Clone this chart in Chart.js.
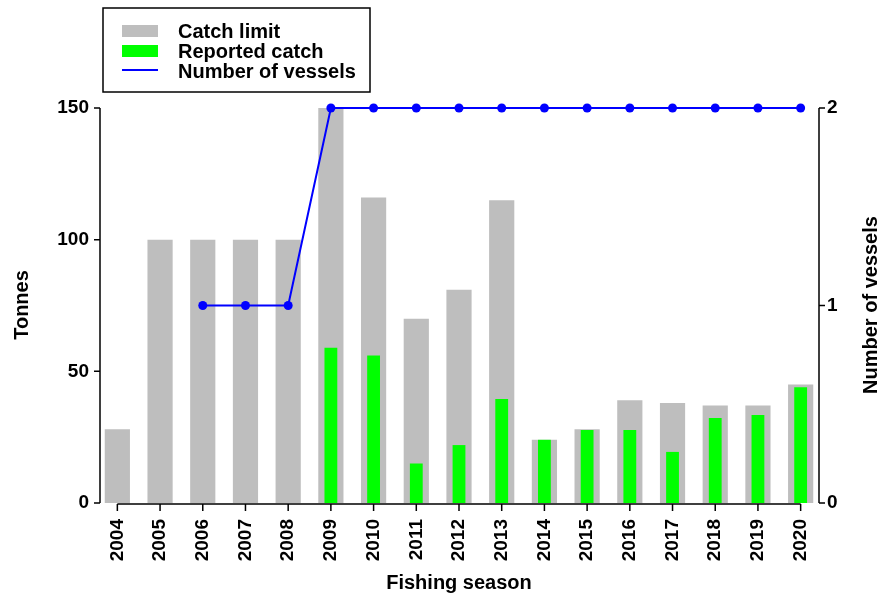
<!DOCTYPE html>
<html>
<head>
<meta charset="utf-8">
<script src="https://cdn.jsdelivr.net/npm/chart.js@4"></script>
<style>
  html, body { margin: 0; padding: 0; background: #fff; }
  #wrap { width: 883px; height: 599px; }
</style>
</head>
<body>
<div id="wrap"><canvas id="chart" width="883" height="599"></canvas></div>
<script>
// chart data
const seasons = ['2004', '2005', '2006', '2007', '2008', '2009', '2010', '2011', '2012',
  '2013', '2014', '2015', '2016', '2017', '2018', '2019', '2020']
const catchLimit = [28, 100, 100, 100, 100, 150, 116, 70, 81, 115, 24, 28, 39, 38, 37, 37, 45]
const reportedCatch = [null, null, null, null, null, 59, 56, 15, 22, 39.5, 24, 27.7, 27.7, 19.4, 32.3, 33.4, 44]
const vessels = [null, null, 1, 1, 1, 2, 2, 2, 2, 2, 2, 2, 2, 2, 2, 2, 2]
const tonnesTicks = [0, 50, 100, 150]
const vesselTicks = [0, 1, 2]

const FONT = 'Liberation Sans, Arial, sans-serif'

// axes, titles and legend box drawn R-style
const decorPlugin = {
  id: 'decor',
  afterDraw(chart) {
    const ctx = chart.ctx
    const x = chart.scales.x
    const y = chart.scales.y
    const y2 = chart.scales.y2
    const leftX = 100
    const rightX = 819
    ctx.save()
    ctx.strokeStyle = '#000'
    ctx.lineWidth = 1.5
    ctx.beginPath()
    // left axis
    ctx.moveTo(leftX, y.getPixelForValue(0))
    ctx.lineTo(leftX, y.getPixelForValue(150))
    tonnesTicks.forEach(v => {
      const py = y.getPixelForValue(v)
      ctx.moveTo(leftX, py)
      ctx.lineTo(leftX - 6, py)
    })
    // right axis
    ctx.moveTo(rightX, y2.getPixelForValue(0))
    ctx.lineTo(rightX, y2.getPixelForValue(2))
    vesselTicks.forEach(v => {
      const py = y2.getPixelForValue(v)
      ctx.moveTo(rightX, py)
      ctx.lineTo(rightX + 6, py)
    })
    // bottom axis
    const by = 504
    ctx.moveTo(x.getPixelForValue(0), by)
    ctx.lineTo(x.getPixelForValue(seasons.length - 1), by)
    seasons.forEach((s, i) => {
      const px = x.getPixelForValue(i)
      ctx.moveTo(px, by)
      ctx.lineTo(px, by + 7)
    })
    ctx.stroke()

    // axis titles
    ctx.fillStyle = '#000'
    ctx.font = 'bold 20px ' + FONT
    ctx.textAlign = 'center'
    ctx.textBaseline = 'middle'
    ctx.fillText('Fishing season', 459, 583)
    ctx.save()
    ctx.translate(22, 305)
    ctx.rotate(-Math.PI / 2)
    ctx.fillText('Tonnes', 0, 0)
    ctx.restore()
    ctx.save()
    ctx.translate(871, 305)
    ctx.rotate(-Math.PI / 2)
    ctx.fillText('Number of vessels', 0, 0)
    ctx.restore()

    // legend
    ctx.lineWidth = 1.5
    ctx.strokeRect(103, 8, 267, 84)
    const ds = chart.data.datasets
    const rows = [31, 51, 71]
    ctx.textAlign = 'left'
    ds.forEach((d, i) => {
      const ry = rows[i]
      if (d.type === 'line') {
        ctx.strokeStyle = d.borderColor
        ctx.lineWidth = 2
        ctx.beginPath()
        ctx.moveTo(122, ry - 1)
        ctx.lineTo(158, ry - 1)
        ctx.stroke()
      } else {
        ctx.fillStyle = d.backgroundColor
        ctx.fillRect(122, ry - 6, 36, 12)
      }
      ctx.fillStyle = '#000'
      ctx.fillText(d.label, 178, ry + 1)
    })
    ctx.restore()
  }
}

const ctx = document.getElementById('chart').getContext('2d')
const chart = new Chart(ctx, {
  data: {
    labels: seasons,
    datasets: [
      {
        type: 'bar',
        label: 'Catch limit',
        data: catchLimit,
        backgroundColor: '#BEBEBE',
        barPercentage: 0.59,
        categoryPercentage: 1,
        grouped: false,
        order: 3,
        yAxisID: 'y'
      },
      {
        type: 'bar',
        label: 'Reported catch',
        data: reportedCatch,
        backgroundColor: '#00FF00',
        barPercentage: 0.3,
        categoryPercentage: 1,
        grouped: false,
        order: 2,
        yAxisID: 'y'
      },
      {
        type: 'line',
        label: 'Number of vessels',
        data: vessels,
        borderColor: '#0000FF',
        backgroundColor: '#0000FF',
        borderWidth: 2,
        pointRadius: 4.5,
        pointBackgroundColor: '#0000FF',
        pointBorderWidth: 0,
        spanGaps: false,
        clip: false,
        order: 1,
        yAxisID: 'y2'
      }
    ]
  },
  options: {
    responsive: false,
    animation: false,
    layout: { padding: { top: 108, left: 0, right: 0, bottom: 0 } },
    plugins: {
      legend: { display: false },
      tooltip: { enabled: false }
    },
    scales: {
      x: {
        offset: true,
        grid: { display: false, drawTicks: false },
        border: { display: false },
        ticks: {
          color: '#000',
          font: { family: FONT, size: 19, weight: 'bold' },
          minRotation: 90,
          maxRotation: 90,
          padding: 16,
          autoSkip: false
        },
        afterFit(scale) { scale.height = 96 }
      },
      y: {
        position: 'left',
        min: 0,
        max: 150,
        grid: { display: false, drawTicks: false },
        border: { display: false },
        afterBuildTicks(scale) { scale.ticks = tonnesTicks.map(v => ({ value: v })) },
        ticks: {
          color: '#000',
          font: { family: FONT, size: 19, weight: 'bold' },
          padding: 7
        },
        afterFit(scale) { scale.width = 96 }
      },
      y2: {
        position: 'right',
        min: 0,
        max: 2,
        grid: { display: false, drawTicks: false },
        border: { display: false },
        afterBuildTicks(scale) { scale.ticks = vesselTicks.map(v => ({ value: v })) },
        ticks: {
          color: '#000',
          font: { family: FONT, size: 19, weight: 'bold' },
          padding: 5
        },
        afterFit(scale) { scale.width = 61 }
      }
    }
  },
  plugins: [decorPlugin]
})
</script>
</body>
</html>
